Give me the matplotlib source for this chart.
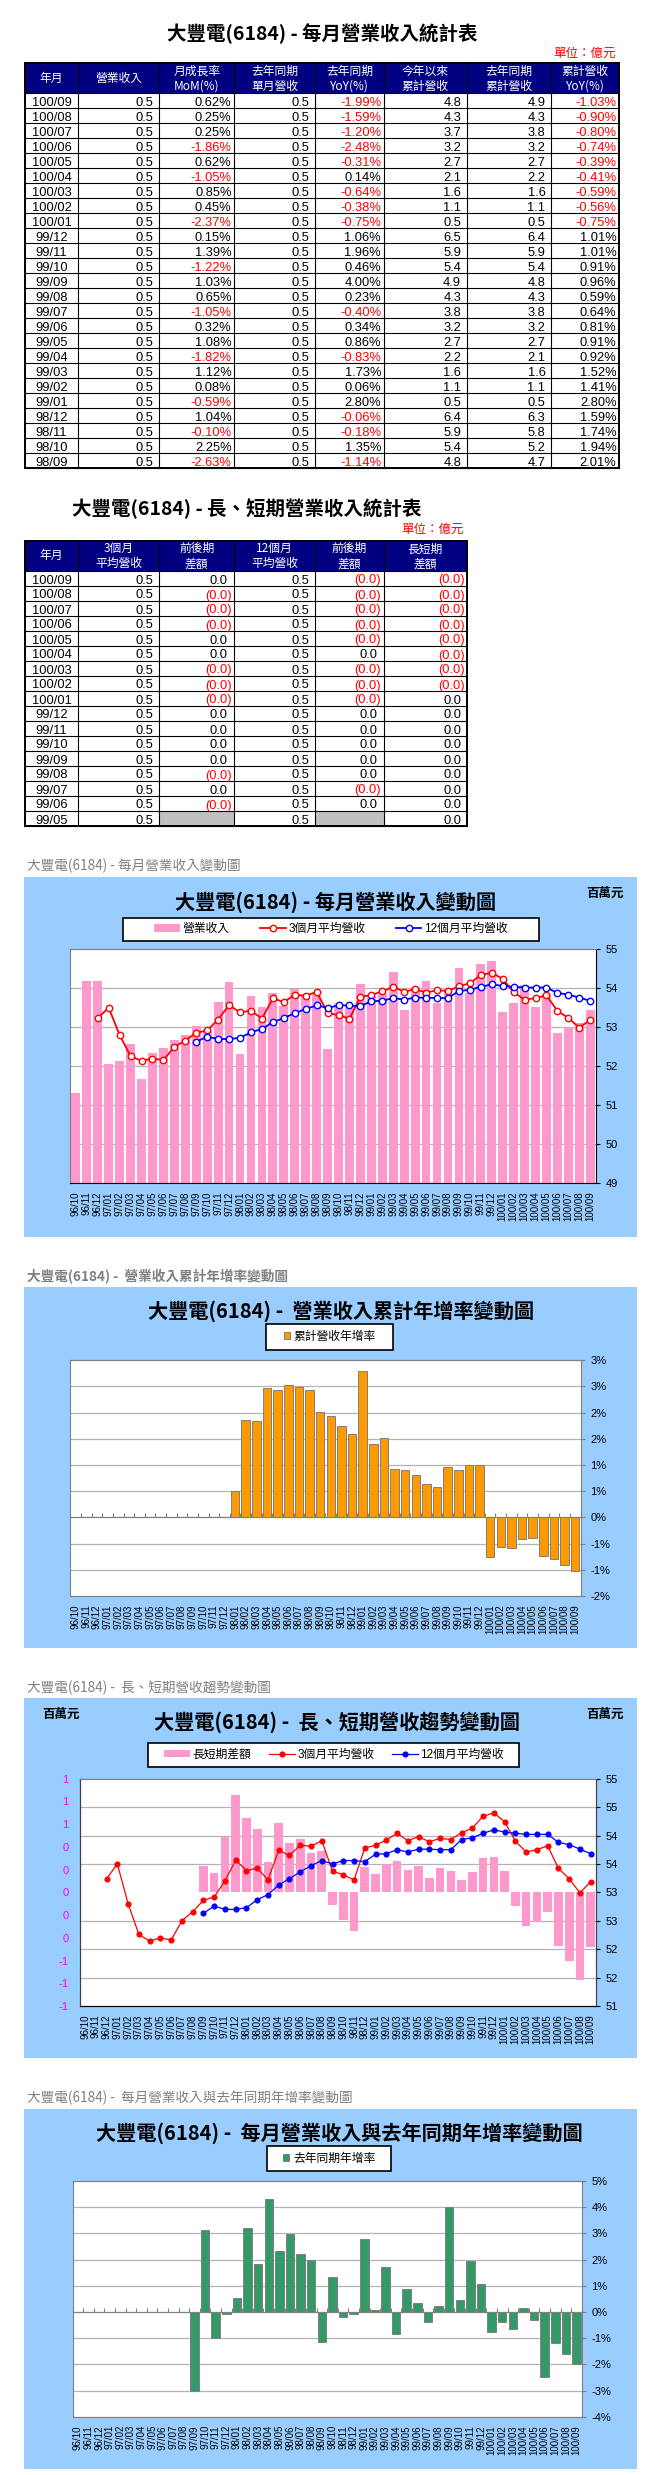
import math
import numpy as np
import matplotlib
matplotlib.use('Agg')
import matplotlib.pyplot as plt
from matplotlib.patches import Rectangle, Patch
from matplotlib.ticker import FuncFormatter

plt.rcParams['font.family'] = ['Liberation Sans', 'Noto Sans CJK TC', 'DejaVu Sans']
CJK = ['Noto Sans CJK TC', 'DejaVu Sans']
nan = np.nan

# ---- table 1: monthly revenue (億元) ----
t1_month = ['100/09', '100/08', '100/07', '100/06', '100/05', '100/04', '100/03', '100/02', '100/01',
            '99/12', '99/11', '99/10', '99/09', '99/08', '99/07', '99/06', '99/05', '99/04', '99/03',
            '99/02', '99/01', '98/12', '98/11', '98/10', '98/09']
t1_rev = [0.5] * 25
t1_mom = [0.62, 0.25, 0.25, -1.86, 0.62, -1.05, 0.85, 0.45, -2.37, 0.15, 1.39, -1.22, 1.03,
          0.65, -1.05, 0.32, 1.08, -1.82, 1.12, 0.08, -0.59, 1.04, -0.10, 2.25, -2.63]
t1_prev = [0.5] * 25
t1_yoy = [-1.99, -1.59, -1.20, -2.48, -0.31, 0.14, -0.64, -0.38, -0.75, 1.06, 1.96, 0.46, 4.00,
          0.23, -0.40, 0.34, 0.86, -0.83, 1.73, 0.06, 2.80, -0.06, -0.18, 1.35, -1.14]
t1_ytd = [4.8, 4.3, 3.7, 3.2, 2.7, 2.1, 1.6, 1.1, 0.5, 6.5, 5.9, 5.4, 4.9, 4.3, 3.8, 3.2, 2.7,
          2.2, 1.6, 1.1, 0.5, 6.4, 5.9, 5.4, 4.8]
t1_prev_ytd = [4.9, 4.3, 3.8, 3.2, 2.7, 2.2, 1.6, 1.1, 0.5, 6.4, 5.9, 5.4, 4.8, 4.3, 3.8, 3.2,
               2.7, 2.1, 1.6, 1.1, 0.5, 6.3, 5.8, 5.2, 4.7]
t1_cum_yoy = [-1.03, -0.90, -0.80, -0.74, -0.39, -0.41, -0.59, -0.56, -0.75, 1.01, 1.01, 0.91,
              0.96, 0.59, 0.64, 0.81, 0.91, 0.92, 1.52, 1.41, 2.80, 1.59, 1.74, 1.94, 2.01]
t1_headers = [['年月'], ['營業收入'], ['月成長率', 'MoM(%)'], ['去年同期', '單月營收'],
              ['去年同期', 'YoY(%)'], ['今年以來', '累計營收'], ['去年同期', '累計營收'],
              ['累計營收', 'YoY(%)']]

# ---- table 2: long / short term revenue (億元) ----
t2_month = ['100/09', '100/08', '100/07', '100/06', '100/05', '100/04', '100/03', '100/02', '100/01',
            '99/12', '99/11', '99/10', '99/09', '99/08', '99/07', '99/06', '99/05']
t2_avg3 = [0.5] * 17
t2_diff3 = ['0.0', '(0.0)', '(0.0)', '(0.0)', '0.0', '0.0', '(0.0)', '(0.0)', '(0.0)', '0.0',
            '0.0', '0.0', '0.0', '(0.0)', '0.0', '(0.0)', None]
t2_avg12 = [0.5] * 17
t2_diff12 = ['(0.0)', '(0.0)', '(0.0)', '(0.0)', '(0.0)', '0.0', '(0.0)', '(0.0)', '(0.0)', '0.0',
             '0.0', '0.0', '0.0', '0.0', '(0.0)', '0.0', None]
t2_longshort = ['(0.0)', '(0.0)', '(0.0)', '(0.0)', '(0.0)', '(0.0)', '(0.0)', '(0.0)', '0.0', '0.0',
                '0.0', '0.0', '0.0', '0.0', '0.0', '0.0', '0.0']
t2_headers = [['年月'], ['3個月', '平均營收'], ['前後期', '差額'], ['12個月', '平均營收'],
              ['前後期', '差額'], ['長短期', '差額']]

# ---- charts (百萬元 / %) ----
months = ['96/10', '96/11', '96/12',
          '97/01', '97/02', '97/03', '97/04', '97/05', '97/06', '97/07', '97/08', '97/09', '97/10', '97/11', '97/12',
          '98/01', '98/02', '98/03', '98/04', '98/05', '98/06', '98/07', '98/08', '98/09', '98/10', '98/11', '98/12',
          '99/01', '99/02', '99/03', '99/04', '99/05', '99/06', '99/07', '99/08', '99/09', '99/10', '99/11', '99/12',
          '100/01', '100/02', '100/03', '100/04', '100/05', '100/06', '100/07', '100/08', '100/09']
revenue = [51.31, 54.18, 54.18,
           52.07, 52.14, 52.58, 51.68, 52.35, 52.47, 52.68, 52.81, 53.03, 52.90, 53.64, 54.15,
           52.32, 53.80, 53.52, 53.89, 53.54, 53.99, 53.85, 53.88, 52.45, 53.62, 53.57, 54.10,
           53.81, 53.85, 54.43, 53.44, 54.04, 54.18, 53.63, 53.98, 54.51, 53.88, 54.62, 54.70,
           53.39, 53.62, 54.08, 53.52, 53.85, 52.86, 53.00, 53.11, 53.44]
avg3 = [nan, nan, 53.24,
        53.50, 52.80, 52.26, 52.14, 52.20, 52.16, 52.50, 52.66, 52.86, 52.92, 53.20, 53.57,
        53.38, 53.43, 53.22, 53.74, 53.65, 53.83, 53.81, 53.91, 53.37, 53.31, 53.22, 53.78,
        53.83, 53.92, 54.04, 53.91, 53.98, 53.89, 53.95, 53.93, 54.05, 54.13, 54.34, 54.40,
        54.24, 53.90, 53.71, 53.75, 53.82, 53.42, 53.24, 52.99, 53.19]
avg12 = [nan, nan, nan,
         nan, nan, nan, nan, nan, nan, nan, nan, 52.63, 52.76, 52.70, 52.70,
         52.73, 52.87, 52.96, 53.13, 53.24, 53.36, 53.47, 53.56, 53.50, 53.56, 53.56, 53.54,
         53.67, 53.68, 53.75, 53.71, 53.76, 53.76, 53.75, 53.75, 53.93, 53.96, 54.04, 54.10,
         54.06, 54.04, 54.02, 54.02, 54.02, 53.88, 53.84, 53.76, 53.68]
ls_diff = [nan, nan, nan,
           nan, nan, nan, nan, nan, nan, nan, nan, 0.23, 0.17, 0.49, 0.86,
           0.65, 0.56, 0.27, 0.61, 0.43, 0.47, 0.35, 0.36, -0.11, -0.24, -0.34, 0.22,
           0.16, 0.25, 0.28, 0.20, 0.23, 0.13, 0.21, 0.19, 0.11, 0.18, 0.30, 0.31,
           0.19, -0.12, -0.30, -0.26, -0.17, -0.47, -0.60, -0.77, -0.48]
cum_yoy = [nan, nan, nan,
           nan, nan, nan, nan, nan, nan, nan, nan, nan, nan, nan, nan,
           0.51, 1.86, 1.84, 2.47, 2.44, 2.53, 2.49, 2.44, 2.01, 1.94, 1.74, 1.59,
           2.80, 1.41, 1.52, 0.92, 0.91, 0.81, 0.64, 0.59, 0.96, 0.91, 1.01, 1.01,
           -0.75, -0.56, -0.59, -0.41, -0.39, -0.74, -0.80, -0.90, -1.03]
yoy = [nan, nan, nan,
       nan, nan, nan, nan, nan, nan, nan, nan, -3.02, 3.12, -1.00, -0.08,
       0.52, 3.19, 1.82, 4.30, 2.32, 2.96, 2.20, 1.97, -1.14, 1.35, -0.18, -0.06,
       2.80, 0.06, 1.73, -0.83, 0.86, 0.34, -0.40, 0.23, 4.00, 0.46, 1.96, 1.06,
       -0.75, -0.38, -0.64, 0.14, -0.31, -2.48, -1.20, -1.59, -1.99]

NAME = '大豐電(6184)'
BLUE_BG = '#99CCFF'
PINK = '#FF99CC'
GRID = '#B4B4B4'
EDGE = '#808080'

W, H = 661, 2475
fig = plt.figure(figsize=(W / 100, H / 100), dpi=100)
bg = fig.add_axes([0, 0, 1, 1])
bg.set_xlim(0, W)
bg.set_ylim(H, 0)
bg.axis('off')


def half_up(v):
    r = math.floor(abs(v) + 0.5 + 1e-9)
    return r if v >= 0 else -r


def txt(x, y, s, **kw):
    kw.setdefault('family', CJK)
    return bg.text(x, y, s, **kw)


# ---------------- tables ----------------
def draw_table(xs, top, head_h, row_h, headers, rows):
    n = len(rows)
    bottom = top + head_h + n * row_h
    bg.add_patch(Rectangle((xs[0], top), xs[-1] - xs[0], head_h, facecolor='#000080', edgecolor='none'))
    for c, hdr in enumerate(headers):
        cx = (xs[c] + xs[c + 1]) / 2
        if len(hdr) == 1:
            txt(cx, top + head_h * 0.5, hdr[0], color='white', fontsize=8.5, ha='center', va='center')
        else:
            txt(cx, top + head_h * 0.27, hdr[0], color='white', fontsize=8.5, ha='center', va='center')
            txt(cx, top + head_h * 0.77, hdr[1], color='white', fontsize=8.5, ha='center', va='center')
    for r, row in enumerate(rows):
        y0 = top + head_h + r * row_h
        for c, (s, color, pad) in enumerate(row):
            if s is None:
                bg.add_patch(Rectangle((xs[c], y0), xs[c + 1] - xs[c], row_h,
                                       facecolor='#C0C0C0', edgecolor='none'))
                continue
            if pad is None:
                bg.text((xs[c] + xs[c + 1]) / 2, y0 + row_h - 2.2, s, color=color, fontsize=9.3,
                        ha='center', va='baseline')
            else:
                bg.text(xs[c + 1] - pad, y0 + row_h - 2.2, s, color=color, fontsize=9.3,
                        ha='right', va='baseline')
    for k in range(n + 1):
        y = top + head_h + k * row_h
        bg.plot([xs[0], xs[-1]], [y, y], color='black', lw=0.8)
    for xv in xs[1:-1]:
        bg.plot([xv, xv], [top, bottom], color='black', lw=0.8)
    bg.add_patch(Rectangle((xs[0], top), xs[-1] - xs[0], bottom - top, facecolor='none',
                           edgecolor='black', lw=1.4))


def pct(v):
    return (f'{v:.2f}%', 'red' if v < 0 else 'black', 2.5)


def num(v):
    return (f'{v:.1f}', 'black', 6)


def acc(s):
    if s is None:
        return (None, None, None)
    return (s, 'red' if s.startswith('(') else 'black', 2.3 if s.startswith('(') else 6)


cols = [24.5, 78.4, 159.4, 234, 315.3, 383.6, 467.1, 551.4, 619]

txt(322.5, 33.3, NAME + ' - 每月營業收入統計表', fontsize=14, weight='bold', ha='center', va='center')
txt(615.5, 53.3, '單位：億元', fontsize=9, color='red', ha='right', va='center')
rows1 = []
for i in range(len(t1_month)):
    rows1.append([(t1_month[i], 'black', None), num(t1_rev[i]), pct(t1_mom[i]), num(t1_prev[i]),
                  pct(t1_yoy[i]), num(t1_ytd[i]), num(t1_prev_ytd[i]), pct(t1_cum_yoy[i])])
draw_table(cols, 63.3, 30, 15, t1_headers, rows1)

txt(246.6, 508.3, NAME + ' - 長、短期營業收入統計表', fontsize=14, weight='bold', ha='center', va='center')
txt(463.7, 529.3, '單位：億元', fontsize=9, color='red', ha='right', va='center')
rows2 = []
for i in range(len(t2_month)):
    rows2.append([(t2_month[i], 'black', None), num(t2_avg3[i]), acc(t2_diff3[i]), num(t2_avg12[i]),
                  acc(t2_diff12[i]), acc(t2_longshort[i])])
draw_table(cols[:7], 540.7, 30, 15, t2_headers, rows2)


# ---------------- charts ----------------
def chart_frame(box, caption, title, title_xy, legend_box, cap_bold=False):
    x0, y0, x1, y1 = box
    txt(27.4, y0 - 10.7, caption, fontsize=9.8, color='#808080', ha='left', va='center',
        weight='bold' if cap_bold else 'normal')
    bg.add_patch(Rectangle((x0, y0), x1 - x0, y1 - y0, facecolor=BLUE_BG, edgecolor='none'))
    txt(title_xy[0], title_xy[1], title, fontsize=14.5, weight='bold', ha='center', va='center')
    lx0, ly0, lx1, ly1 = legend_box
    bg.add_patch(Rectangle((lx0, ly0), lx1 - lx0, ly1 - ly0, facecolor='white', edgecolor='black', lw=1.2))


def chart_axes(x0, y0, x1, y1):
    ax = fig.add_axes([x0 / W, 1 - y1 / H, (x1 - x0) / W, (y1 - y0) / H])
    ax.set_facecolor('white')
    return ax


def place_legend(ax, handles, labels, box, **kw):
    x0, y0, x1, y1 = box
    leg = ax.legend(handles, labels, loc='center', bbox_to_anchor=((x0 + x1) / 2 / W, 1 - (y0 + y1) / 2 / H),
                    bbox_transform=fig.transFigure, frameon=False, borderpad=0, borderaxespad=0,
                    prop={'family': ['Liberation Sans', 'Noto Sans CJK TC'], 'size': 8.5}, **kw)
    return leg


def month_labels(axis_owner):
    axis_owner.set_xticks(x, labels=months, rotation=90, fontsize=7)
    axis_owner.tick_params(axis='x', length=0, pad=6)


x = np.arange(len(months))

# chart 1: monthly revenue
box1 = (24, 876.7, 636.6, 1236.7)
leg1 = (123.1, 917.7, 538.8, 941)
chart_frame(box1, NAME + ' - 每月營業收入變動圖', NAME + ' - 每月營業收入變動圖', (335.2, 901.7), leg1)
txt(605, 893, '百萬元', fontsize=9, weight='bold', ha='center', va='center')
ax1 = chart_axes(70.4, 949.3, 595.7, 1183.3)
b1 = ax1.bar(x, revenue, width=0.8, color=PINK, zorder=2)
l1a, = ax1.plot(x, avg3, color='red', lw=1.3, marker='o', ms=4.6, mfc='white', mec='red', mew=1, zorder=3)
l1b, = ax1.plot(x, avg12, color='blue', lw=1.3, marker='o', ms=4.6, mfc='white', mec='blue', mew=1, zorder=3)
ax1.set_xlim(-0.5, len(months) - 0.5)
ax1.set_ylim(49, 55)
ax1.set_yticks(range(49, 56))
ax1.yaxis.tick_right()
ax1.tick_params(axis='y', length=3, pad=4, labelsize=8)
ax1.grid(axis='y', color=GRID, lw=0.9)
ax1.set_axisbelow(True)
for s in ('top', 'left'):
    ax1.spines[s].set_color(EDGE)
for s in ('bottom', 'right'):
    ax1.spines[s].set_color('black')
month_labels(ax1)
place_legend(ax1, [b1, l1a, l1b], ['營業收入', '3個月平均營收', '12個月平均營收'], leg1, ncol=3,
             handlelength=2.15, handleheight=0.6, handletextpad=0.22, columnspacing=2.6)


def zero_axis_chart(ax, values, color, ylo, yhi, step):
    ax.bar(x, values, width=0.8, color=color, edgecolor=EDGE, lw=0.7, zorder=2)
    ax.set_xlim(-0.5, len(months) - 0.5)
    ax.set_ylim(ylo, yhi)
    ax.set_yticks(np.arange(ylo, yhi + step / 2, step))
    ax.yaxis.set_major_formatter(FuncFormatter(lambda v, p: f'{half_up(v)}%'))
    ax.yaxis.tick_right()
    ax.tick_params(axis='y', length=3, pad=4, labelsize=8, color=EDGE)
    ax.grid(axis='y', color=GRID, lw=0.9)
    ax.set_axisbelow(True)
    for s in ('top', 'left', 'right'):
        ax.spines[s].set_color(EDGE)
    ax.spines['bottom'].set_position(('data', 0))
    ax.spines['bottom'].set_color(EDGE)
    ax.set_xticks(np.arange(len(months) + 1) - 0.5)
    ax.tick_params(axis='x', direction='in', length=2.8, color=EDGE, labelbottom=False)
    sec = ax.secondary_xaxis('bottom')
    sec.spines['bottom'].set_color(EDGE)
    month_labels(sec)
    return ax


# chart 2: cumulative YoY
box2 = (24, 1287.3, 636.6, 1647.7)
leg2 = (266.4, 1324.3, 393.3, 1349.7)
chart_frame(box2, NAME + ' -  營業收入累計年增率變動圖', NAME + ' -  營業收入累計年增率變動圖', (341.5, 1311), leg2,
            cap_bold=True)
ax2 = chart_axes(70.4, 1360.3, 580.5, 1596)
zero_axis_chart(ax2, cum_yoy, '#FF9900', -1.5, 3, 0.5)
place_legend(ax2, [Patch(facecolor='#FF9900', edgecolor=EDGE, lw=0.7)], ['累計營收年增率'], leg2,
             handlelength=0.55, handleheight=0.55, handletextpad=0.3)

# chart 3: long / short term trend
box3 = (24, 1698.3, 636.6, 2057.7)
leg3 = (148.4, 1742.7, 519.4, 1766.7)
chart_frame(box3, NAME + ' -  長、短期營收趨勢變動圖', NAME + ' -  長、短期營收趨勢變動圖', (337.3, 1721.7), leg3)
txt(61.1, 1714, '百萬元', fontsize=9, weight='bold', ha='center', va='center')
txt(605, 1714, '百萬元', fontsize=9, weight='bold', ha='center', va='center')
ax3 = chart_axes(79.7, 1778.7, 596.1, 2006)
b3 = ax3.bar(x, ls_diff, width=0.8, color=PINK, zorder=2)
ax3.set_xlim(-0.5, len(months) - 0.5)
ax3.set_ylim(-1, 1)
ax3.set_yticks(np.arange(-1, 1.01, 0.2))
ax3.yaxis.set_major_formatter(FuncFormatter(lambda v, p: f'{half_up(v)}'))
ax3.tick_params(axis='y', length=0, pad=8, labelsize=8, labelcolor='#FF00FF')
ax3.set_yticks(np.arange(-0.75, 0.8, 0.25), minor=True)
ax3.tick_params(axis='y', which='minor', length=0)
ax3.grid(axis='y', which='minor', color=GRID, lw=0.9)
ax3.grid(axis='y', which='major', visible=False)
ax3.set_axisbelow(True)
month_labels(ax3)
ax3r = ax3.twinx()
l3a, = ax3r.plot(x, avg3, color='red', lw=0.9, marker='o', ms=3.4, mfc='red', mec='red', zorder=3)
l3b, = ax3r.plot(x, avg12, color='blue', lw=0.9, marker='o', ms=3.4, mfc='blue', mec='blue', zorder=3)
ax3r.set_ylim(51, 55)
ax3r.set_yticks(np.arange(51, 55.01, 0.5))
ax3r.yaxis.set_major_formatter(FuncFormatter(lambda v, p: f'{half_up(v)}'))
ax3r.tick_params(axis='y', length=3, pad=4, labelsize=8)
for a in (ax3, ax3r):
    a.spines['top'].set_color(EDGE)
    a.spines['left'].set_color('#404040')
    a.spines['right'].set_color('#404040')
    a.spines['bottom'].set_color('black')
place_legend(ax3r, [b3, l3a, l3b], ['長短期差額', '3個月平均營收', '12個月平均營收'], leg3, ncol=3,
             handlelength=2.2, handleheight=0.57, handletextpad=0.2, columnspacing=1.5)

# chart 4: monthly YoY
box4 = (24, 2109, 636.6, 2469)
leg4 = (267.3, 2146.3, 390.8, 2170.7)
chart_frame(box4, NAME + ' -  每月營業收入與去年同期年增率變動圖', NAME + ' -  每月營業收入與去年同期年增率變動圖',
            (339.4, 2133), leg4)
ax4 = chart_axes(72.5, 2181, 581.8, 2416.7)
zero_axis_chart(ax4, yoy, '#339966', -4, 5, 1)
place_legend(ax4, [Patch(facecolor='#339966', edgecolor=EDGE, lw=0.7)], ['去年同期年增率'], leg4,
             handlelength=0.55, handleheight=0.55, handletextpad=0.3)

fig.savefig('out.png', dpi=100)
